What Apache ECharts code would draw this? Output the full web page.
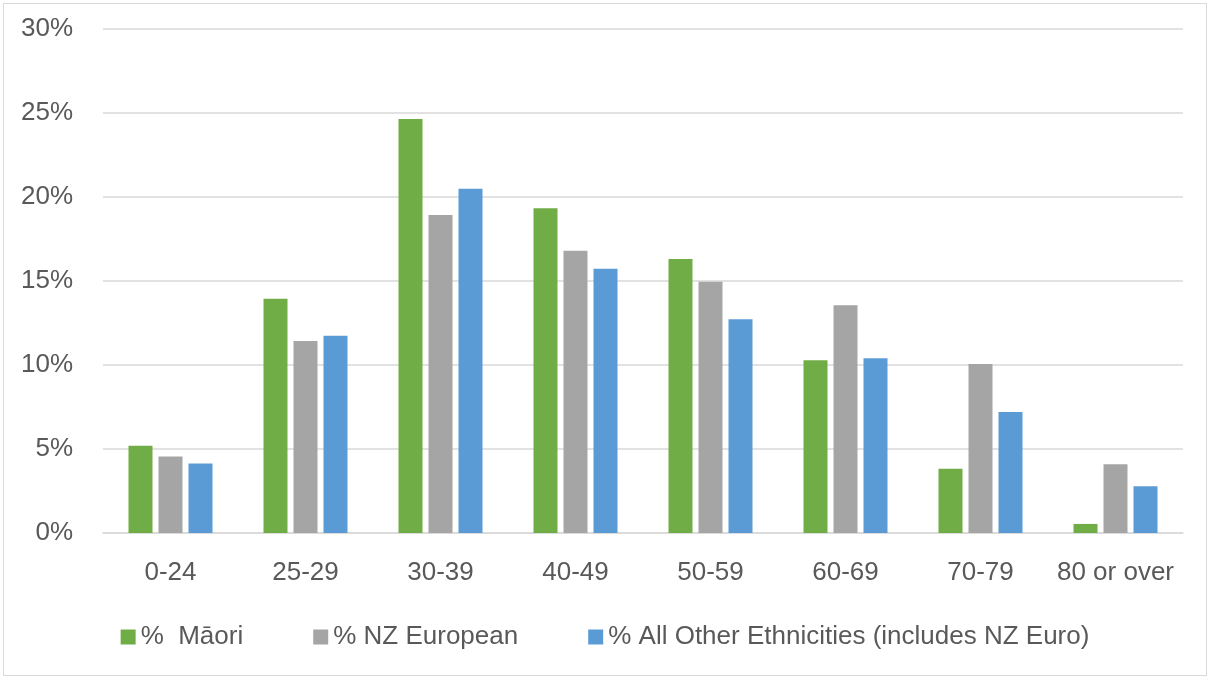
<!DOCTYPE html>
<html>
<head>
<meta charset="utf-8">
<script src="https://cdn.jsdelivr.net/npm/echarts@6/dist/echarts.min.js"></script>
<style>
  html, body { margin: 0; padding: 0; background: #ffffff; }
  #frame { position: absolute; left: 3px; top: 3px; width: 1204px; height: 673px; border: 1px solid #d9d9d9; box-sizing: border-box; }
  #chart { position: absolute; left: 0; top: 0; width: 1210px; height: 679px; }
</style>
</head>
<body>
<div id="frame"></div>
<div id="chart"></div>
<script>
// Age bands on the category axis
const ageBands = ['0-24', '25-29', '30-39', '40-49', '50-59', '60-69', '70-79', '80 or over'];

// Share of each group falling in each age band (%)
const maori = [5.2, 13.95, 24.64, 19.33, 16.31, 10.28, 3.83, 0.54];
const nzEuropean = [4.56, 11.43, 18.93, 16.8, 14.96, 13.55, 10.06, 4.09];
const allOther = [4.13, 11.74, 20.49, 15.73, 12.72, 10.4, 7.2, 2.78];

// Series names as shown in the legend
const seriesNames = ['%  Māori', '% NZ European', '% All Other Ethnicities (includes NZ Euro)'];

const colors = ['#70AD47', '#A5A5A5', '#5B9BD5'];
const textColor = '#595959';
const fontFamily = '"Liberation Sans", Arial, sans-serif';
const fontSize = 26;

const chart = echarts.init(document.getElementById('chart'), null, { renderer: 'canvas' });

const seriesData = [maori, nzEuropean, allOther];

chart.setOption({
  animation: false,
  backgroundColor: 'transparent',
  color: colors,
  grid: { left: 103, right: 27, top: 29, bottom: 146, containLabel: false },
  legend: {
    bottom: 24,
    left: 'center',
    itemWidth: 15,
    itemHeight: 15,
    itemGap: 70,
    icon: 'rect',
    textStyle: { color: textColor, fontSize: fontSize, fontFamily: fontFamily },
    data: seriesNames
  },
  xAxis: {
    type: 'category',
    data: ageBands,
    axisLine: { show: true, lineStyle: { color: '#d9d9d9', width: 1.5 } },
    axisTick: { show: false },
    axisLabel: { interval: 0, color: textColor, fontSize: fontSize, fontFamily: fontFamily, margin: 27 }
  },
  yAxis: {
    type: 'value',
    min: 0,
    max: 30,
    interval: 5,
    axisLine: { show: false },
    axisTick: { show: false },
    axisLabel: { color: textColor, fontSize: fontSize, fontFamily: fontFamily, margin: 30, formatter: '{value}%' },
    splitLine: { lineStyle: { color: '#d9d9d9', width: 1.5 } }
  },
  series: seriesData.map((vals, i) => ({
    name: seriesNames[i],
    type: 'bar',
    data: vals,
    barWidth: 24,
    barGap: '25%',
    itemStyle: { color: colors[i] }
  }))
});
</script>
</body>
</html>
